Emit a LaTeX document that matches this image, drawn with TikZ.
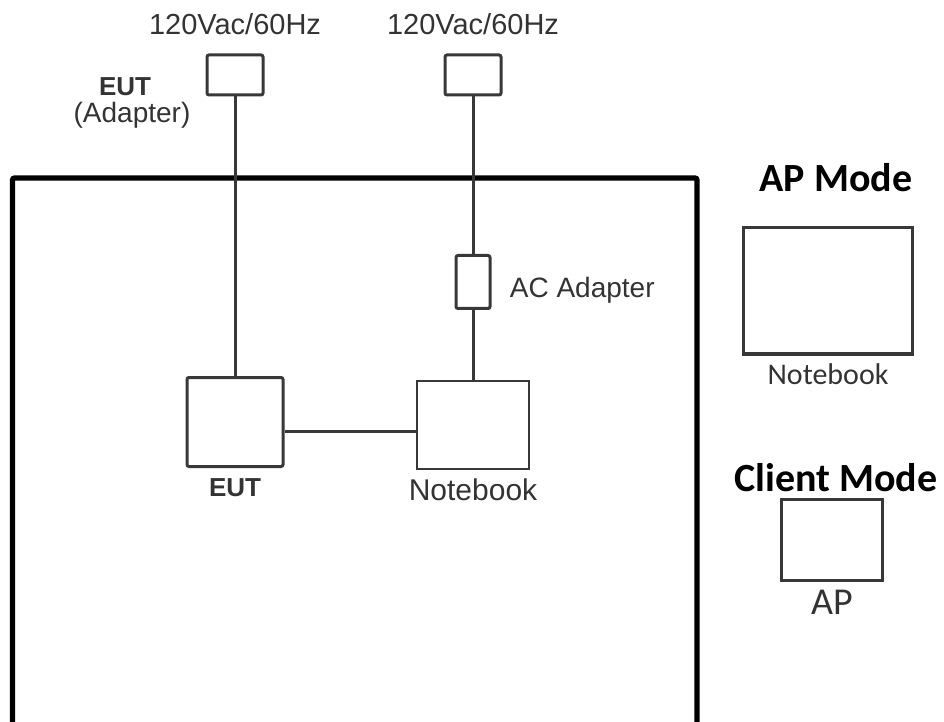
\documentclass[tikz,border=0pt]{standalone}
\usepackage{fontspec}
\setmainfont{Liberation Sans}
\newfontfamily\calfont{Carlito}
\usetikzlibrary{positioning}

\begin{document}
\begin{tikzpicture}[
  x=0.5pt, y=-0.5pt,
  node distance=4pt,
  every node/.style={inner sep=1pt},
  % Styles
  unit/.style={rectangle, draw=black!78, line width=1.5pt, rounded corners=1pt},
  wire/.style={draw=black!78, line width=1.5pt},
  lbl/.style={font=\fontsize{14}{16}\selectfont, text=black!80},
  modelbl/.style={font=\calfont\fontsize{15}{17}\selectfont, text=black!80},
  modehead/.style={font=\calfont\bfseries\fontsize{20}{22}\selectfont},
]
  \useasboundingbox (0,0) rectangle (944,722);

  % table / test area
  \draw[line width=2.6pt, rounded corners=1pt] (12.5,178) rectangle (697,725.5);

  % mains sockets
  \node[unit, minimum width=28pt, minimum height=20pt] (plugl) at (235,75) {};
  \node[unit, minimum width=28pt, minimum height=20pt] (plugr) at (473,75) {};
  \node[lbl, above=8pt of plugl, font=\fontsize{14.5}{16}\selectfont] (acl) {120Vac/60Hz};
  \node[lbl, above=8pt of plugr, font=\fontsize{14.5}{16}\selectfont] (acr) {120Vac/60Hz};

  \node[lbl, font=\bfseries\fontsize{13}{15}\selectfont] (eutadp) at (125,87) {EUT};
  \node[lbl] (eutadpb) at (132,115) {(Adapter)};

  % devices on the table
  \node[unit, minimum width=17pt, minimum height=26.5pt] (acadp) at (473,282) {};
  \node[lbl, right=8pt of acadp, yshift=-4pt] (acadplbl) {AC Adapter};

  \node[unit, minimum width=48pt, minimum height=44.5pt] (eut) at (235,422) {};
  \node[lbl, below=4pt of eut, font=\bfseries\fontsize{13}{15}\selectfont] (eutlbl) {EUT};

  \node[unit, line width=1.2pt, rounded corners=0pt, minimum width=56pt, minimum height=44pt] (nb) at (473,425) {};
  \node[lbl, below=3pt of nb, font=\fontsize{15}{17}\selectfont] (nblbl) {Notebook};

  % wiring
  \draw[wire] (plugl) -- (eut);
  \draw[wire] (plugr) -- (acadp);
  \draw[wire] (acadp) -- (nb);
  \draw[wire] ([yshift=-4.5pt]eut.east) -- ([yshift=-4.5pt]eut.east -| nb.west);

  % modes legend
  \node[modehead] (aphead) at (836,178) {AP Mode};
  \node[unit, rounded corners=0pt, minimum width=84.5pt, minimum height=63pt] (apnb) at (828,291) {};
  \node[modelbl, below=3pt of apnb] (apnblbl) {Notebook};

  \node[modehead] (clhead) at (836,478) {Client Mode};
  \node[unit, rounded corners=0pt, minimum width=50.5pt, minimum height=40.5pt] (ap) at (832,540) {};
  \node[modelbl, below=3pt of ap, font=\calfont\fontsize{19}{21}\selectfont] (aplbl) {AP};

\end{tikzpicture}
\end{document}
